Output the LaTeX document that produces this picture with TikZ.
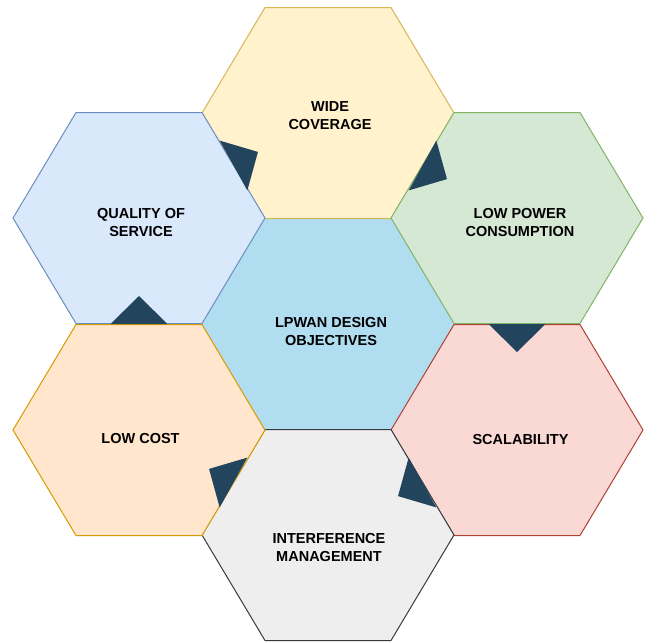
\documentclass[tikz,border=0pt]{standalone}
\usepackage{fontspec}
\setmainfont{Liberation Sans}
\usetikzlibrary{calc}

\definecolor{centrefill}{HTML}{B1DDF0}
\definecolor{widefill}{HTML}{FFF2CC}\definecolor{widedraw}{HTML}{D6B656}
\definecolor{qosfill}{HTML}{DAE8FC}\definecolor{qosdraw}{HTML}{6C8EBF}
\definecolor{powerfill}{HTML}{D5E8D4}\definecolor{powerdraw}{HTML}{82B366}
\definecolor{scalefill}{HTML}{FAD9D5}\definecolor{scaledraw}{HTML}{AE4132}
\definecolor{interffill}{HTML}{EEEEEE}\definecolor{interfdraw}{HTML}{36393D}
\definecolor{costfill}{HTML}{FFE6CC}\definecolor{costdraw}{HTML}{D79B00}
\definecolor{turnblue}{HTML}{23445D}

\tikzset{
hexcell/.style={line width=1pt, line join=miter},
hexlabel/.style={font=\fontsize{14.5}{18}\selectfont\bfseries, align=center},
turnmark/.style={fill=turnblue, draw=none}
}

\begin{document}
\begin{tikzpicture}[x=1pt, y=-1pt]
\useasboundingbox (0,0) rectangle (651,641);
\coordinate (c) at (328,324);
\coordinate (t) at (328,113);
\coordinate (ul) at (139,218);
\coordinate (ur) at (517,218);
\coordinate (ll) at (139,430);
\coordinate (lr) at (517,430);
\coordinate (b) at (328,535);
\foreach \p/\fc/\dc in {c/centrefill/centrefill, t/widefill/widedraw, ul/qosfill/qosdraw,
  ur/powerfill/powerdraw, lr/scalefill/scaledraw, b/interffill/interfdraw, ll/costfill/costdraw}
  \draw[hexcell, fill=\fc, draw=\dc] ($(\p)+(-126,0)$) -- ++(63,-105.5) -- ++(126,0)
    -- ++(63,105.5) -- ++(-63,105.5) -- ++(-126,0) -- cycle;
\foreach \a/\b in {ul/t, t/ur, ur/lr, lr/b, b/ll, ll/ul} {
  \coordinate (m) at ($(\a)!.5!(\b)$);
  \fill[turnmark] ($(m)!28.5pt!90:(\b)$) -- ($(m)!28pt!(\b)$) -- ($(m)!28.5pt!-90:(\b)$) -- cycle;
}
\node[hexlabel] (centre) at (331,332) {LPWAN DESIGN\\OBJECTIVES};
\node[hexlabel] (wide) at (330,116) {WIDE\\COVERAGE};
\node[hexlabel] (qos) at (141,223) {QUALITY OF\\SERVICE};
\node[hexlabel] (power) at (520,223) {LOW POWER\\CONSUMPTION};
\node[hexlabel] (cost) at (140.5,438.5) {LOW COST};
\node[hexlabel] (scale) at (520.5,439) {SCALABILITY};
\node[hexlabel] (interf) at (329,547) {INTERFERENCE\\MANAGEMENT};
\end{tikzpicture}
\end{document}
